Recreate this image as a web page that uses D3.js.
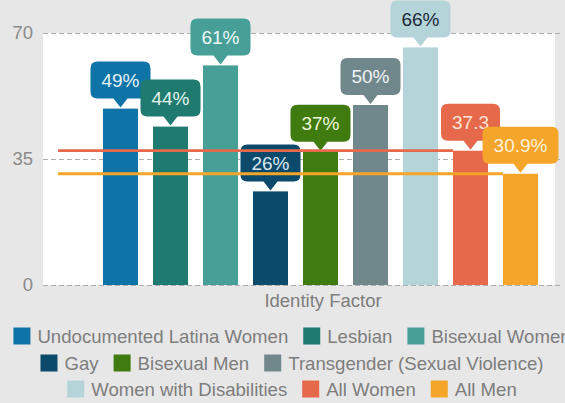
<!DOCTYPE html>
<html>
<head>
<meta charset="utf-8">
<script src="https://cdn.jsdelivr.net/npm/d3@7"></script>
<style>
  body { margin: 0; background: #e7e7e7; }
  svg { display: block; font-family: "Liberation Sans", Arial, sans-serif; }
</style>
</head>
<body>
<div id="chart"></div>
<script>
// data
const categories = ["Undocumented Latina Women", "Lesbian", "Bisexual Women", "Gay", "Bisexual Men",
                    "Transgender (Sexual Violence)", "Women with Disabilities", "All Women", "All Men"];
const values = [49, 44, 61, 26, 37, 50, 66, 37.3, 30.9];
const valueLabels = ["49%", "44%", "61%", "26%", "37%", "50%", "66%", "37.3", "30.9%"];
const refLines = ["All Women", "All Men"];
const yTicks = [0, 35, 70];
const legendRows = [[0, 1, 2], [3, 4, 5], [6, 7, 8]];
const xTitle = "Identity Factor";

const colors = ["#0e74a7", "#1f7b6f", "#47a097", "#0b4a6a", "#407b10",
                "#70878c", "#b5d4da", "#e5694a", "#f4a52a"];
const labelColors = ["#e4f1f8", "#e2f1ee", "#eef8f6", "#dbe8f0", "#eef7d8",
                     "#f1f4f5", "#1c2a38", "#fde4d6", "#fdf1d8"];

const svgWidth = 565, svgHeight = 403;
const plotLeft = 43, plotRight = 555, plotTop = 33, plotBottom = 285;

let svg = d3.select("#chart")
    .append("svg")
    .attr("width", svgWidth)
    .attr("height", svgHeight);

svg.append("rect")
    .attr("width", svgWidth)
    .attr("height", svgHeight)
    .attr("fill", "#e7e7e7");

svg.append("rect")
    .attr("x", plotLeft)
    .attr("y", plotTop)
    .attr("width", plotRight - plotLeft)
    .attr("height", plotBottom - plotTop)
    .attr("fill", "#ffffff");

let y = d3.scaleLinear()
    .domain([0, 70])
    .range([plotBottom, plotTop]);

let x = d3.scaleBand()
    .domain(categories)
    .range([95.5, 545.5])
    .paddingInner(0.3)
    .paddingOuter(0.15);

// dashed grid + tick labels
let yAxis = svg.append("g")
    .attr("transform", `translate(${plotLeft},0)`)
    .call(d3.axisLeft(y).tickValues(yTicks).tickSize(-(562 - plotLeft)).tickPadding(10));
yAxis.select(".domain").remove();
yAxis.selectAll(".tick line")
    .attr("stroke", "#aeaeae")
    .attr("stroke-width", 1.2)
    .attr("stroke-dasharray", "5,3");
yAxis.selectAll(".tick text")
    .attr("fill", "#8a8a8a")
    .style("font-size", "18.5px")
    .style("font-family", "\"Liberation Sans\", Arial, sans-serif");

// bars
svg.append("g")
    .selectAll("rect")
    .data(categories)
    .enter()
    .append("rect")
        .attr("x", d => x(d))
        .attr("y", (d, i) => y(values[i]))
        .attr("width", x.bandwidth())
        .attr("height", (d, i) => y(0) - y(values[i]))
        .attr("fill", (d, i) => colors[i]);

// rounded label box with a pointer down to the bar top
function bubble_path(cx, tip, w, h, r, pw, ph) {
    let b = tip - ph, t = b - h, l = cx - w / 2, rt = cx + w / 2;
    return `M${l + r},${t} H${rt - r} Q${rt},${t} ${rt},${t + r} V${b - r} Q${rt},${b} ${rt - r},${b}` +
           ` H${cx + pw} L${cx},${tip} L${cx - pw},${b} H${l + r} Q${l},${b} ${l},${b - r}` +
           ` V${t + r} Q${l},${t} ${l + r},${t} Z`;
}

let labels = svg.append("g");
categories.forEach((c, i) => {
    let cx = x(c) + x.bandwidth() / 2;
    let tip = y(values[i]) - 1;
    let g = labels.append("g");
    let path = g.append("path").attr("fill", colors[i]);
    let text = g.append("text")
        .attr("x", cx)
        .attr("y", tip - 9 - 18.5)
        .attr("dy", "0.36em")
        .attr("text-anchor", "middle")
        .attr("fill", labelColors[i])
        .style("font-size", "19px")
        .text(valueLabels[i]);
    let w = text.node().getComputedTextLength() + 22;
    path.attr("d", bubble_path(cx, tip, w, 37, 7, 7, 9));
});

// reference lines for All Women / All Men
svg.append("g")
    .selectAll("line")
    .data(refLines)
    .enter()
    .append("line")
        .attr("x1", 58)
        .attr("x2", d => x(d))
        .attr("y1", d => y(values[categories.indexOf(d)]))
        .attr("y2", d => y(values[categories.indexOf(d)]))
        .attr("stroke", d => colors[categories.indexOf(d)])
        .attr("stroke-width", 2.8);

svg.append("text")
    .attr("x", 323)
    .attr("y", 307)
    .attr("text-anchor", "middle")
    .attr("fill", "#7d7d7d")
    .style("font-size", "18.5px")
    .text(xTitle);

// legend, three centred rows
const rowY = [336, 363, 389];
const sw = 17, textGap = 7, itemGap = 15, legendCenter = 292;
legendRows.forEach((row, r) => {
    let g = svg.append("g");
    let cursor = 0;
    row.forEach(i => {
        g.append("rect")
            .attr("x", cursor)
            .attr("y", rowY[r] - sw / 2)
            .attr("width", sw)
            .attr("height", sw)
            .attr("fill", colors[i]);
        let t = g.append("text")
            .attr("x", cursor + sw + textGap)
            .attr("y", rowY[r])
            .attr("dy", "0.36em")
            .attr("fill", "#7d7d7d")
            .style("font-size", "18.6px")
            .text(categories[i]);
        cursor += sw + textGap + t.node().getComputedTextLength() + itemGap;
    });
    let total = cursor - itemGap;
    g.attr("transform", `translate(${legendCenter - total / 2},0)`);
});
</script>
</body>
</html>
